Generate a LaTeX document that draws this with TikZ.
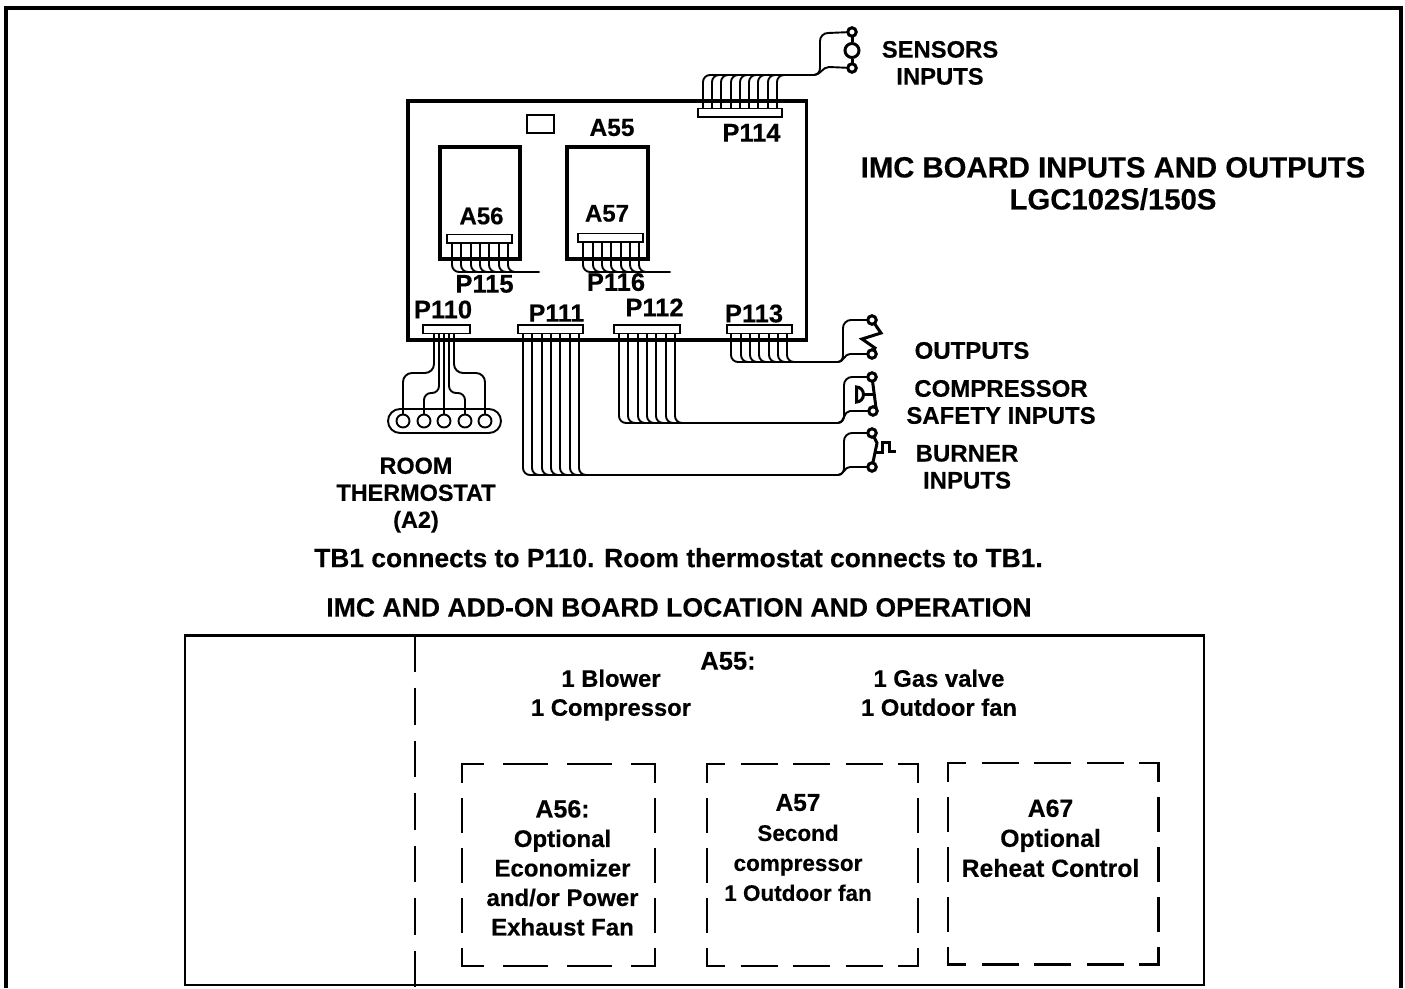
\documentclass[tikz,border=0pt]{standalone}
\usepackage{fontspec}
\setmainfont{Liberation Sans}[BoldFeatures={FakeBold=0.35}]
\newcommand{\fsz}[2]{\fontsize{#1}{#2}\selectfont\bfseries}
\newcommand{\dashedsides}[7]{%
  \draw[dashline,dash pattern=on #5pt off #6pt,dash phase=#7pt] (#1-1,#2) -- (#3+1,#2);
  \draw[dashline,dash pattern=on #5pt off #6pt,dash phase=#7pt] (#1-1,#4) -- (#3+1,#4);
  \draw[dashline,dash pattern=on 35pt off 15pt,dash phase=16pt] (#1,#2) -- (#1,#4);
  \draw[dashline,dash pattern=on 35pt off 15pt,dash phase=16pt] (#3,#2) -- (#3,#4);
}
\tikzset{
  lbl/.style={anchor=north,inner sep=0pt,outer sep=0pt,align=center,text=black},
  boxn/.style={draw=black,anchor=north west,inner sep=0pt,outer sep=0pt,minimum width=#1},
  boardbox/.style={boxn=#1,line width=3.2pt},
  conn/.style={boxn=#1,line width=1.8pt,fill=white,minimum height=8.5pt},
  wire/.style={draw=black,line width=1.9pt},
  bus/.style={wire,rounded corners=7pt},
  term/.style={draw=black,circle,fill=white,line width=3pt,minimum size=8.5pt,inner sep=0pt,outer sep=0pt},
  pin/.style={draw=black,circle,fill=white,line width=1.9pt,minimum size=13pt,inner sep=0pt,outer sep=0pt},
  sym/.style={draw=black,line width=3pt},
  dashline/.style={draw=black,line width=2.1pt},
}
\begin{document}
\begin{tikzpicture}[x=1pt,y=-1pt]
\useasboundingbox (0,0) rectangle (1405,988);
% outer frame
\coordinate (fa) at (5.5,988); \coordinate (fb) at (5.5,7.5);
\coordinate (fc) at (1401,7.5); \coordinate (fd) at (1401,988);
\draw[line width=4pt,line join=miter] (fa) -- (fb) -- (fc) -- (fd);

% main board and add-on boards
\node[boardbox=398.5pt,minimum height=239pt] (a55box) at (408,101) {};
\node[boardbox=80pt,minimum height=112pt] (a56box) at (440,147) {};
\node[boardbox=81pt,minimum height=112pt] (a57box) at (567,147) {};
\node[boxn=27pt,line width=1.6pt,minimum height=18pt] (smallbox) at (527,115) {};

% connectors
\node[conn=84pt] (p114c) at (698,108.5) {};
\node[conn=65pt] (p115c) at (447,234.5) {};
\node[conn=65pt] (p116c) at (578,233.5) {};
\node[conn=47pt] (p110c) at (423,325) {};
\node[conn=65pt] (p111c) at (518,325) {};
\node[conn=66pt] (p112c) at (614,325) {};
\node[conn=65pt] (p113c) at (727,325) {};

% terminals
\node[term] (s1) at (852,32) {};
\node[term] (s2) at (852,68) {};
\node[draw=black,circle,fill=white,line width=3pt,minimum size=14pt,inner sep=0pt] (sensor) at (852,50.5) {};
\draw[sym] (s1) -- (sensor);
\draw[sym] (sensor) -- (s2);
\node[term] (o1) at (872,320) {};
\node[term] (o2) at (872,354) {};
\node[term] (c1) at (872,377) {};
\node[term] (c2) at (873,411) {};
\node[term] (b1) at (872,433) {};
\node[term] (b2) at (872,467) {};

% P114 bus
\coordinate (j114) at (814,75);
\foreach \x in {703,712,721,731,740,749,758,768,777}
  \draw[bus] (\x,0 |- p114c.north) |- (j114);
\draw[wire] (j114) to[out=0,in=-90] (820,68) -- (820,41) to[out=90,in=180] (828,33) -- (s1);
\draw[wire] (j114) to[out=0,in=180] (829,67) -- (s2);

% P115, P116 stubs
\coordinate (j115) at (539,272);
\foreach \x in {452,461,471,480,489,499,508}
  \draw[bus] (\x,0 |- p115c.south) |- (j115);
\coordinate (j116) at (670,272);
\foreach \x in {583,593,602,611,621,630,639}
  \draw[bus] (\x,0 |- p116c.south) |- (j116);

% P111 bus
\coordinate (j111) at (838,475);
\foreach \x in {523,532,542,551,560,570,579}
  \draw[bus] (\x,0 |- p111c.south) |- (j111);
\draw[wire] (j111) to[out=0,in=-90] (844,468) -- (844,441) to[out=90,in=180] (852,433) -- (b1);
\draw[wire] (j111) to[out=0,in=180] (850,467) -- (b2);

% P112 bus
\coordinate (j112) at (838,423);
\foreach \x in {619,628,638,647,656,666,675}
  \draw[bus] (\x,0 |- p112c.south) |- (j112);
\draw[wire] (j112) to[out=0,in=-90] (844,416) -- (844,385) to[out=90,in=180] (852,377) -- (c1);
\draw[wire] (j112) to[out=0,in=180] (850,411) -- (c2);

% P113 bus
\coordinate (j113) at (838,362);
\foreach \x in {731,741,750,759,769,778,787}
  \draw[bus] (\x,0 |- p113c.south) |- (j113);
\draw[wire] (j113) to[out=0,in=-90] (843,355) -- (843,328) to[out=90,in=180] (851,320) -- (o1);
\draw[wire] (j113) to[out=0,in=180] (850,354) -- (o2);

% switch symbols
\coordinate (z1) at (881,333); \coordinate (z2) at (862,339); \coordinate (z3) at (875,348);
\draw[sym,line join=miter] (o1) -- (z1) -- (z2) -- (z3) -- (o2);
\draw[sym] (c1) -- (c2.north east);
\node[draw=none,inner sep=0pt,minimum size=0pt] (dia) at (863.5,394.5) {};
\draw[sym] (dia.center) -- (874.5,394.5);
\draw[sym,line join=miter] (856.5,387) -- (856.5,402) to[out=0,in=-90] (863.5,394.5) to[out=90,in=0] (856.5,387) -- cycle;
\draw[sym] (b1) -- (877,443) -- (b2);
\coordinate (w1) at (875,452); \coordinate (w2) at (882,452); \coordinate (w3) at (882,442);
\coordinate (w4) at (889,442); \coordinate (w5) at (889,451); \coordinate (w6) at (896,451);
\draw[sym,line join=miter] (w1) -- (w2) -- (w3) -- (w4) -- (w5) -- (w6);

% thermostat strip
\node[boxn=113pt,minimum height=24pt,rounded corners=12pt,line width=1.9pt] (strip) at (388,409) {};
\foreach \n/\x in {t1/403,t2/424,t3/444,t4/465,t5/485}
  \node[pin] (\n) at (\x,421) {};
\draw[bus,rounded corners=9pt] (434,0 |- p110c.south) |- (0,373 -| t1) -- (t1.north);
\draw[bus,rounded corners=7pt] (439,0 |- p110c.south) |- (0,393 -| t2) -- (t2.north);
\draw[wire] (444,0 |- p110c.south) -- (t3.north);
\draw[bus,rounded corners=7pt] (449,0 |- p110c.south) |- (0,393 -| t4) -- (t4.north);
\draw[bus,rounded corners=9pt] (454,0 |- p110c.south) |- (0,373 -| t5) -- (t5.north);

% board labels
\node[lbl,font=\fsz{25.5}{27}] (p114) at (751.5,124) {P114};
\node[lbl,font=\fsz{24.5}{27}] (a55) at (612,119) {A55};
\node[lbl,font=\fsz{24}{27}] (a56) at (481.5,207.5) {A56};
\node[lbl,font=\fsz{24}{27}] (a57) at (607,205) {A57};
\node[lbl,font=\fsz{25.5}{27}] (p115) at (484.5,275) {P115};
\node[lbl,font=\fsz{25.5}{27}] (p116) at (616,273) {P116};
\node[lbl,font=\fsz{25.5}{27}] (p110) at (443,300.5) {P110};
\node[lbl,font=\fsz{25}{27}] (p111) at (556.5,304.5) {P111};
\node[lbl,font=\fsz{25.5}{27}] (p112) at (654.5,298.5) {P112};
\node[lbl,font=\fsz{25.5}{27}] (p113) at (754,304.5) {P113};

% side labels
\node[lbl,font=\fsz{23.8}{27}] (sensl) at (940,41) {SENSORS\\INPUTS};
\node[lbl,font=\fsz{29.3}{32}] (title) at (1113,157) {IMC BOARD INPUTS AND OUTPUTS\\LGC102S/150S};
\node[lbl,font=\fsz{24}{27}] (outl) at (972,342) {OUTPUTS};
\node[lbl,font=\fsz{24}{27}] (compl) at (1001,380) {COMPRESSOR\\SAFETY INPUTS};
\node[lbl,font=\fsz{24}{27}] (burnl) at (967,445) {BURNER\\INPUTS};
\node[lbl,font=\fsz{23.4}{27}] (rooml) at (416,457.5) {ROOM\\THERMOSTAT\\(A2)};
\node[lbl,font=\fsz{26.4}{28}] (tbl) at (678.5,548) {TB1 connects to P110. Room thermostat connects to TB1.};
\node[lbl,font=\fsz{26.6}{28}] (locl) at (679,598) {IMC AND ADD-ON BOARD LOCATION AND OPERATION};

% lower table
\node[boxn=1019pt,minimum height=349.5pt,line width=2.6pt] (table) at (185,635.5) {};
\draw[dashline,dash pattern=on 36pt off 16pt on 37pt off 16pt] (415,0 |- table.north) -- (415,988);
\dashedsides{462}{764}{655}{966}{45}{19}{22}
\dashedsides{707}{764}{918}{966}{37}{15.6}{18}
\dashedsides{948}{763}{1158.5}{964.5}{37}{15.6}{18}

% table text
\node[lbl,font=\fsz{25.5}{29}] (ta55) at (728,652) {A55:};
\node[lbl,font=\fsz{23.8}{29}] (tblow) at (611,669.5) {1 Blower\\1 Compressor};
\node[lbl,font=\fsz{23.8}{29}] (tgas) at (939,669.5) {1 Gas valve\\1 Outdoor fan};
\node[lbl,font=\fsz{24}{29.5}] (ta56) at (562.5,800) {{\fontsize{25}{29.5}\selectfont A56:}\\Optional\\Economizer\\and/or Power\\Exhaust Fan};
\node[lbl,font=\fsz{22.5}{30}] (ta57) at (798,794) {{\fontsize{24.5}{30}\selectfont A57}\\Second\\compressor\\1 Outdoor fan};
\node[lbl,font=\fsz{24.8}{30}] (ta67) at (1050.5,799.5) {A67\\Optional\\Reheat Control};
\end{tikzpicture}
\end{document}
